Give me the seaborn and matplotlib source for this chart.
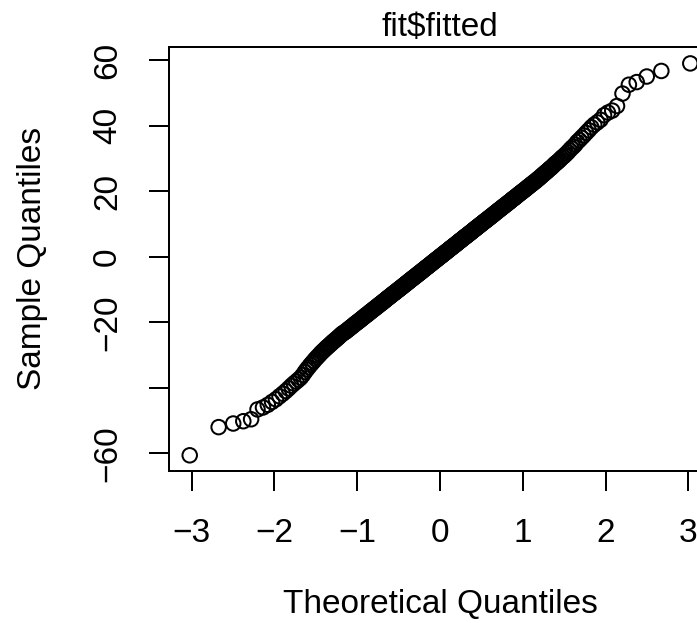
import matplotlib
matplotlib.use("Agg")
import matplotlib.pyplot as plt
import seaborn as sns
import pandas as pd
import numpy as np
from statistics import NormalDist

title = "fit$fitted"
x_label = "Theoretical Quantiles"
y_label = "Sample Quantiles"
x_ticks = [-3, -2, -1, 0, 1, 2, 3]
x_tick_labels = ["\u22123", "\u22122", "\u22121", "0", "1", "2", "3"]
y_ticks = [-60, -40, -20, 0, 20, 40, 60]
y_tick_labels = ["\u221260", "", "\u221220", "0", "20", "40", "60"]

# sorted sample quantiles of fit$fitted
lower_tail = [-60.6, -52.0, -50.9, -50.2, -49.6, -46.6, -46.0, -45.2, -44.3, -43.5,
              -42.6, -41.8, -41.0, -40.2, -39.4, -38.7, -38.1, -37.5, -36.9, -36.1]
lower_body = [-35.2, -34.4, -33.7, -33.0, -32.4, -31.8, -31.2, -30.7, -30.2, -29.7,
              -29.2, -28.8, -28.4, -28.0, -27.6, -27.3, -26.9, -26.6, -26.2, -25.9,
              -25.6, -25.3, -25.0, -24.7, -24.4, -24.1, -23.8, -23.5, -23.3, -23.1,
              -22.9, -22.7, -22.4, -22.2, -22.0, -21.7, -21.5, -21.3, -21.1, -20.8,
              -20.6, -20.4, -20.2, -20.0, -19.8, -19.6, -19.4, -19.2, -19.0, -18.8,
              -18.6, -18.4, -18.2, -18.0, -17.8, -17.7, -17.5, -17.3, -17.1, -16.9,
              -16.7, -16.6, -16.4, -16.2, -16.0, -15.9, -15.7, -15.5, -15.4, -15.2,
              -15.0, -14.9, -14.7, -14.5, -14.4, -14.2, -14.1, -13.9, -13.7, -13.6,
              -13.4, -13.3, -13.1, -12.9, -12.8, -12.6, -12.5, -12.3, -12.2, -12.0,
              -11.9, -11.7, -11.6, -11.4, -11.3, -11.1, -11.0, -10.9, -10.7, -10.6,
              -10.4, -10.3, -10.1, -10.0, -9.9, -9.7, -9.6, -9.4, -9.3, -9.2,
              -9.0, -8.9, -8.7, -8.6, -8.5, -8.3, -8.2, -8.1, -7.9, -7.8,
              -7.6, -7.5, -7.4, -7.2, -7.1, -7.0, -6.8, -6.7, -6.6, -6.4,
              -6.3, -6.2, -6.1, -5.9, -5.8, -5.7, -5.5, -5.4, -5.3, -5.1,
              -5.0, -4.9, -4.8, -4.6, -4.5, -4.4, -4.2, -4.1, -4.0, -3.8,
              -3.7, -3.6, -3.5, -3.3, -3.2, -3.1, -3.0, -2.8, -2.7, -2.6,
              -2.5, -2.3, -2.2, -2.1, -1.9, -1.8, -1.7, -1.6, -1.4, -1.3,
              -1.2, -1.1, -0.9, -0.8, -0.7, -0.6, -0.4, -0.3, -0.2, -0.1]
upper_body = [0.1, 0.2, 0.3, 0.4, 0.6, 0.7, 0.8, 0.9, 1.1, 1.2,
              1.3, 1.4, 1.6, 1.7, 1.8, 1.9, 2.1, 2.2, 2.3, 2.5,
              2.6, 2.7, 2.8, 3.0, 3.1, 3.2, 3.3, 3.5, 3.6, 3.7,
              3.8, 4.0, 4.1, 4.2, 4.4, 4.5, 4.6, 4.8, 4.9, 5.0,
              5.1, 5.3, 5.4, 5.5, 5.7, 5.8, 5.9, 6.1, 6.2, 6.3,
              6.4, 6.6, 6.7, 6.8, 7.0, 7.1, 7.2, 7.4, 7.5, 7.6,
              7.8, 7.9, 8.1, 8.2, 8.3, 8.5, 8.6, 8.7, 8.9, 9.0,
              9.2, 9.3, 9.4, 9.6, 9.7, 9.9, 10.0, 10.1, 10.3, 10.4,
              10.6, 10.7, 10.9, 11.0, 11.1, 11.3, 11.4, 11.6, 11.7, 11.9,
              12.0, 12.2, 12.3, 12.5, 12.6, 12.8, 12.9, 13.1, 13.3, 13.4,
              13.6, 13.7, 13.9, 14.1, 14.2, 14.4, 14.5, 14.7, 14.9, 15.0,
              15.2, 15.4, 15.5, 15.7, 15.9, 16.0, 16.2, 16.4, 16.6, 16.7,
              16.9, 17.1, 17.3, 17.5, 17.7, 17.8, 18.0, 18.2, 18.4, 18.6,
              18.8, 19.0, 19.2, 19.4, 19.6, 19.8, 20.0, 20.2, 20.4, 20.6,
              20.8, 21.1, 21.3, 21.5, 21.7, 22.0, 22.2, 22.4, 22.7, 22.9,
              23.1, 23.4, 23.7, 23.9, 24.2, 24.5, 24.8, 25.1, 25.4, 25.7,
              26.0, 26.3, 26.7, 27.0, 27.3, 27.7, 28.1, 28.5, 28.8, 29.2,
              29.6, 30.1, 30.5, 30.9, 31.4, 31.9, 32.5, 33.1, 33.6, 34.2]
upper_tail = [35.0, 35.6, 36.3, 37.0, 37.8, 38.6, 39.5, 40.3, 41.0, 41.8,
              43.2, 44.0, 44.6, 46.0, 49.8, 52.5, 53.3, 55.0, 56.7, 59.0]

sample = np.sort(np.array(lower_tail + lower_body + upper_body + upper_tail))
n = len(sample)
# theoretical normal quantiles as in R's qqnorm (ppoints with a = 0.5)
nd = NormalDist()
theoretical = [nd.inv_cdf((i - 0.5) / n) for i in range(1, n + 1)]
df = pd.DataFrame({"theoretical": theoretical, "sample": sample})

sns.set_style("white")
plt.rcParams["font.family"] = ["Liberation Sans", "DejaVu Sans"]
plt.rcParams["text.color"] = "black"
plt.rcParams["axes.labelcolor"] = "black"
plt.rcParams["xtick.color"] = "black"
plt.rcParams["ytick.color"] = "black"
plt.rcParams["axes.unicode_minus"] = True

fig = plt.figure(figsize=(6.97, 6.23), dpi=100)
ax = fig.add_axes([0.2429, 0.24446, 0.77676, 0.68058])

sns.scatterplot(data=df, x="theoretical", y="sample", ax=ax, marker="o", s=109,
                facecolor="none", edgecolor="black", linewidth=1.44, legend=False)

ax.set_xlim(-3.27, 3.27)
ax.set_ylim(-65.3, 64.1)

for sp in ax.spines.values():
    sp.set_visible(True)
    sp.set_color("black")
    sp.set_linewidth(1.44)

ax.set_xticks(x_ticks)
ax.set_xticklabels(x_tick_labels)
ax.set_yticks(y_ticks)
ax.set_yticklabels(y_tick_labels, rotation=90, va="center")
ax.tick_params(axis="both", direction="out", length=14.4, width=1.44,
               color="black", labelsize=24, labelcolor="black",
               bottom=True, left=True, top=False, right=False)
ax.tick_params(axis="x", pad=19.5)
ax.tick_params(axis="y", pad=19)

ax.set_xlabel(x_label, fontsize=24)
ax.xaxis.set_label_coords(0.5, -0.279)
ax.set_ylabel(y_label, fontsize=24)
ax.yaxis.set_label_coords(-0.2235, 0.5)
ax.set_title(title, fontsize=24, pad=7.7)

fig.savefig("out.png", dpi=100)
